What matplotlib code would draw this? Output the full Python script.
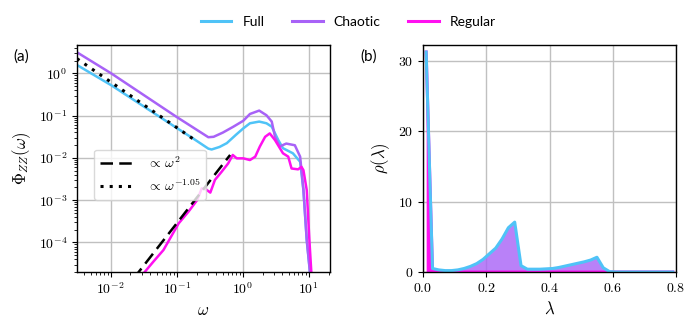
import numpy as np
import matplotlib
matplotlib.use('Agg')
import matplotlib.pyplot as plt
from matplotlib.lines import Line2D

plt.rcParams['font.family'] = ['cmr10', 'DejaVu Sans']
plt.rcParams['mathtext.fontset'] = 'cm'
plt.rcParams['axes.formatter.use_mathtext'] = True
plt.rcParams['axes.unicode_minus'] = False

# colours
c_full = '#4fc3f7'
c_chaos = '#a862f7'
c_reg = '#ff10f0'

# ---- panel (a): spectra, values as (log10 omega, log10 Phi)
full_logw = [-2.51, -1.99, -1.0, -0.75, -0.52, -0.47, -0.35, -0.24, -0.10, 0.01, 0.11,
             0.25, 0.36, 0.44, 0.54, 0.61, 0.76, 0.87, 0.92, 0.97, 1.02]
full_logp = [0.20, -0.28, -1.29, -1.54, -1.78, -1.80, -1.74, -1.65, -1.45, -1.30, -1.18,
             -1.14, -1.18, -1.26, -1.58, -1.77, -1.89, -2.09, -2.76, -3.94, -4.72]

chaos_logw = [-2.51, -1.99, -1.0, -0.75, -0.52, -0.44, -0.30, -0.14, 0.01, 0.11, 0.25,
              0.36, 0.44, 0.49, 0.56, 0.66, 0.79, 0.87, 0.92, 0.97, 1.02]
chaos_logp = [0.50, 0.0, -1.03, -1.28, -1.51, -1.50, -1.40, -1.26, -1.12, -0.96, -0.88,
              -0.99, -1.14, -1.50, -1.73, -1.66, -1.70, -1.97, -2.76, -3.94, -4.72]

reg_logw = [-1.50, -1.35, -1.20, -0.97, -0.82, -0.69, -0.62, -0.56, -0.49, -0.42, -0.32,
            -0.22, -0.15, -0.09, 0.01, 0.11, 0.19, 0.26, 0.34, 0.41, 0.49, 0.61, 0.69,
            0.74, 0.84, 0.89, 0.92, 0.97, 1.01, 1.04]
reg_logp = [-4.73, -4.45, -4.18, -3.55, -3.27, -3.00, -2.72, -2.74, -2.82, -2.52, -2.33,
            -2.13, -1.93, -2.01, -2.01, -2.05, -1.97, -1.73, -1.50, -1.42, -1.58, -1.89, -1.97,
            -2.25, -2.27, -2.21, -2.29, -2.76, -3.94, -4.72]

# guide lines (end points)
sq_w = [10**-1.65, 10**-0.19]
sq_p = [10**-4.85, 10**-1.93]
pl_w = [10**-2.51, 10**-0.75]
pl_p = [10**0.35, 10**-1.55]

# ---- panel (b): eigenvalue density, bin centres
lam = np.arange(0.01, 0.80, 0.02)
rho_full = [31.3, 0.5, 0.3, 0.2, 0.2, 0.3, 0.5, 0.8, 1.2, 1.8,
            2.6, 3.4, 4.7, 6.3, 7.1, 0.9, 0.4, 0.4, 0.4, 0.45,
            0.5, 0.65, 0.85, 1.05, 1.25, 1.45, 1.7, 2.1, 0.6, 0.05,
            0, 0, 0, 0, 0, 0, 0, 0, 0, 0]
rho_reg = [31.3, 0.2] + [0] * 38
rho_chaos = [0.0, 0.3, 0.3, 0.2, 0.2, 0.3, 0.5, 0.8, 1.2, 1.8,
             2.6, 3.4, 4.7, 6.3, 7.1, 0.9, 0.4, 0.4, 0.4, 0.45,
             0.5, 0.65, 0.85, 1.05, 1.25, 1.45, 1.7, 2.1, 0.6, 0.05,
             0, 0, 0, 0, 0, 0, 0, 0, 0, 0]

fig = plt.figure(figsize=(6.97, 3.29), dpi=100)
ax1 = fig.add_axes([77 / 697, 1 - 272 / 329, 253 / 697, 227 / 329])
ax2 = fig.add_axes([423 / 697, 1 - 272 / 329, 253 / 697, 227 / 329])

lw = 1.8
ax1.plot(10**np.array(full_logw), 10**np.array(full_logp), color=c_full, lw=lw)
ax1.plot(10**np.array(chaos_logw), 10**np.array(chaos_logp), color=c_chaos, lw=lw)
ax1.plot(10**np.array(reg_logw), 10**np.array(reg_logp), color=c_reg, lw=lw)
ax1.plot(sq_w, sq_p, color='black', ls=(0, (5, 2.5)), lw=1.8, label=r'$\propto\,\omega^{2}$')
ax1.plot(pl_w, pl_p, color='black', ls=(0, (1, 2)), lw=2.2, label=r'$\propto\,\omega^{-1.05}$')
ax1.set_xscale('log')
ax1.set_yscale('log')
ax1.set_xlim(3.1e-3, 21)
ax1.set_ylim(2e-5, 4.7)
ax1.set_yticks([1e-4, 1e-3, 1e-2, 1e-1, 1e0])
ax1.grid(True, which='major', color='#c0c0c0', lw=1)
ax1.set_axisbelow(True)
ax1.set_xlabel(r'$\omega$', fontsize=12)
ax1.set_ylabel(r'$\Phi_{ZZ}(\omega)$', fontsize=12)
ax1.tick_params(labelsize=10)
ax1.legend(loc='upper left', bbox_to_anchor=(0.04, 0.57), fontsize=10,
           handlelength=2.6, framealpha=0.8, edgecolor='#d0d0d0')

ax2.fill_between(lam, rho_chaos, color=c_chaos, alpha=0.8, lw=0)
ax2.fill_between(lam, rho_reg, color=c_reg, lw=0)
ax2.plot(lam, rho_reg, color=c_reg, lw=2.2)
ax2.plot(lam, rho_full, color=c_full, lw=2.2)
ax2.set_xlim(0, 0.8)
ax2.set_ylim(0, 32.3)
ax2.set_yticks([0, 10, 20, 30])
ax2.grid(True, color='#c0c0c0', lw=1)
ax2.set_axisbelow(True)
ax2.set_xlabel(r'$\lambda$', fontsize=12)
ax2.set_ylabel(r'$\rho(\lambda)$', fontsize=12)
ax2.tick_params(labelsize=10)

for ax in (ax1, ax2):
    for s in ax.spines.values():
        s.set_linewidth(1.0)

fig.text(13 / 697, 1 - 57 / 329, '(a)', fontsize=11, family='Lato', va='center')
fig.text(360 / 697, 1 - 57 / 329, '(b)', fontsize=11, family='Lato', va='center')

handles = [Line2D([], [], color=c_full, lw=2.2),
           Line2D([], [], color=c_chaos, lw=2.2),
           Line2D([], [], color=c_reg, lw=2.2)]
fig.legend(handles, ['Full', 'Chaotic', 'Regular'], loc='center',
           bbox_to_anchor=(0.5, 1 - 22 / 329), ncol=3, frameon=False,
           prop={'family': 'Lato', 'size': 10}, handlelength=2.2, columnspacing=2.0)

fig.savefig('out.png', dpi=100)
